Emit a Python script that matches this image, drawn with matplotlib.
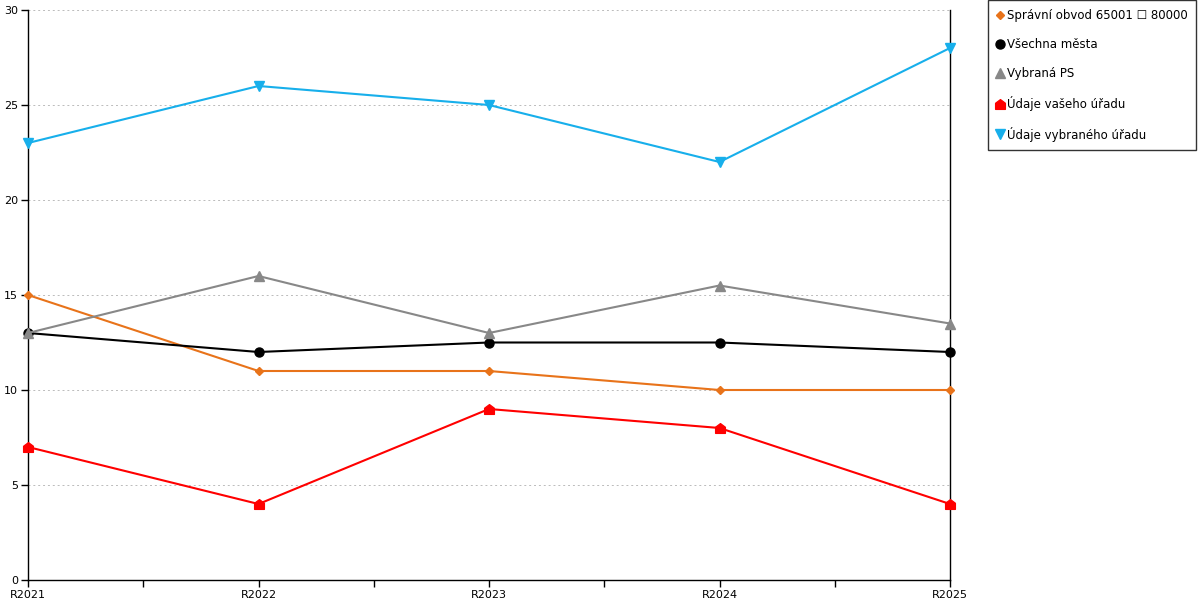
import numpy as np
import matplotlib.pyplot as plt
from matplotlib.path import Path

# data
years = ['R2021', 'R2022', 'R2023', 'R2024', 'R2025']
obvod = [15, 11, 11, 10, 10]
mesta = [13, 12, 12.5, 12.5, 12]
vybrana_ps = [13, 16, 13, 15.5, 13.5]
vas_urad = [7, 4, 9, 8, 4]
vybrany_urad = [23, 26, 25, 22, 28]

labels = ['Správní obvod 65001 \u2610 80000', 'Všechna města', 'Vybraná PS',
          'Údaje vašeho úřadu', 'Údaje vybraného úřadu']

# house-shaped marker for the red series
house = Path([(-1, -1), (1, -1), (1, 0.25), (0, 1), (-1, 0.25), (-1, -1)],
             [Path.MOVETO] + [Path.LINETO] * 4 + [Path.CLOSEPOLY])

plt.rcParams['font.family'] = ['DejaVu Sans']

fig = plt.figure(figsize=(12, 6), dpi=100)
ax = fig.add_axes([28 / 1200, 20 / 600, 922 / 1200, 570 / 600])

x = np.arange(len(years))
series = [
    (obvod, '#E8731A', 'D', 4.5),
    (mesta, '#000000', 'o', 6.5),
    (vybrana_ps, '#888888', '^', 7),
    (vas_urad, '#FF0000', house, 7),
    (vybrany_urad, '#17AFEB', 'v', 7),
]
for (vals, col, mk, ms), lab in zip(series, labels):
    ax.plot(x, vals, color=col, lw=1.5, marker=mk, ms=ms, label=lab,
            clip_on=False, zorder=3)

ax.set_xlim(0, len(years) - 1)
ax.set_ylim(0, 30)
ax.set_yticks(range(0, 31, 5))
ax.set_xticks(x)
ax.set_xticks(x[:-1] + 0.5, minor=True)
ax.set_xticklabels(years)
ax.tick_params(axis='both', labelsize=8, length=5, width=1, color='black', pad=2)
ax.tick_params(axis='x', which='minor', length=5, width=1)
ax.tick_params(axis='y', right=False)

ax.grid(axis='y', color='#BBBBBB', ls=(0, (2, 3)), lw=0.7)
ax.set_axisbelow(True)
ax.spines['top'].set_visible(False)
for s in ['left', 'bottom', 'right']:
    ax.spines[s].set_linewidth(1)
    ax.spines[s].set_color('black')

leg = fig.legend(loc='upper left', bbox_to_anchor=(988 / 1200, 1.0),
                 frameon=True, fancybox=False, fontsize=8.5, handlelength=0.5,
                 handletextpad=0.35, labelspacing=1.35, borderpad=0.75,
                 borderaxespad=0)
leg.get_frame().set_edgecolor('black')
leg.get_frame().set_linewidth(1)
for h in leg.legend_handles:
    h.set_linestyle('None')

fig.savefig('out.png', dpi=100)
